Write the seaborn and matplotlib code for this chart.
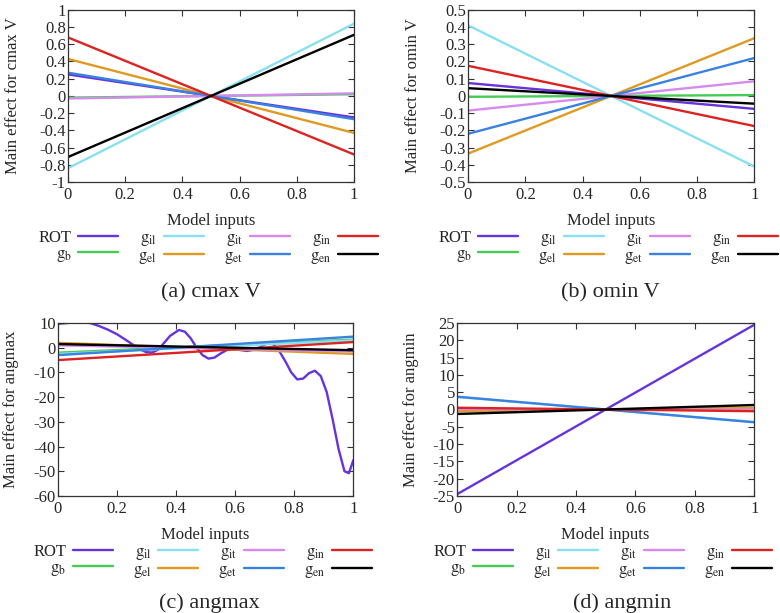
import numpy as np
import pandas as pd
import matplotlib
matplotlib.use("Agg")
import matplotlib.pyplot as plt
from matplotlib.ticker import FuncFormatter, MultipleLocator
import seaborn as sns

sns.set_style("ticks")
plt.rcParams["font.family"] = ["Liberation Serif", "DejaVu Serif"]
plt.rcParams["mathtext.fontset"] = "stix"
plt.rcParams["axes.unicode_minus"] = False

# series names, legend labels and colours (plot order = legend order)
names = ["ROT", "gb", "gil", "gel", "git", "get", "gin", "gen"]
labels = ["ROT", r"$\mathrm{g_{b}}$", r"$\mathrm{g_{il}}$", r"$\mathrm{g_{el}}$",
          r"$\mathrm{g_{it}}$", r"$\mathrm{g_{et}}$", r"$\mathrm{g_{in}}$", r"$\mathrm{g_{en}}$"]
colors = ["#6633dd", "#44cc55", "#88e0f0", "#e09a22",
          "#d68af0", "#3a82e0", "#dd2222", "#000000"]

# linear main effects: value at x=0 and x=1
x_ends = [0.0, 1.0]
cmax_start = [0.25, -0.02, -0.84, 0.43, -0.03, 0.27, 0.68, -0.71]
cmax_end = [-0.25, 0.02, 0.84, -0.43, 0.03, -0.27, -0.68, 0.71]
omin_start = [0.075, -0.005, 0.41, -0.335, -0.085, -0.22, 0.175, 0.045]
omin_end = [-0.075, 0.005, -0.41, 0.335, 0.085, 0.22, -0.175, -0.045]
angmax_start = [None, -2.0, -2.5, 2.0, 1.0, -3.0, -5.0, 1.5]
angmax_end = [None, 3.3, 3.0, -2.5, -1.5, 4.5, 2.3, -1.0]
angmin_start = [-24.5, -0.3, 3.6, -0.5, 0.1, 3.7, 0.5, -1.3]
angmin_end = [24.5, 0.3, -3.6, 0.5, -0.1, -3.7, -0.5, 1.3]

# ROT main effect for angmax (nonlinear)
rot_angmax_x = [0.0, 0.04, 0.08, 0.11, 0.14, 0.17, 0.20, 0.23, 0.26, 0.28, 0.30,
                0.32, 0.34, 0.36, 0.38, 0.41, 0.43, 0.45, 0.47, 0.49, 0.51, 0.53,
                0.55, 0.58, 0.61, 0.64, 0.67, 0.69, 0.71, 0.73, 0.75, 0.77, 0.79,
                0.81, 0.83, 0.85, 0.87, 0.89, 0.91, 0.93, 0.95, 0.97, 0.985, 1.0]
rot_angmax_y = [9.7, 10.1, 10.4, 10.0, 8.8, 7.3, 5.5, 3.2, 0.8, -0.8, -1.8,
                -1.9, -0.8, 2.0, 4.8, 7.2, 6.5, 3.8, 0.0, -3.0, -4.4, -4.0,
                -2.4, -0.4, -0.8, -1.3, -0.7, 0.6, 1.9, 1.4, -1.5, -5.5, -10.0,
                -12.8, -12.5, -10.3, -9.3, -11.5, -18.0, -29.0, -41.0, -50.0, -50.8, -45.5]

panels = [
    dict(start=cmax_start, end=cmax_end, ylim=(-1, 1), step=0.2,
         ylabel="Main effect for cmax V", cap="(a) cmax V", lpad=13,
         pos=[0.087, 0.703, 0.367, 0.281], cx=0.27),
    dict(start=omin_start, end=omin_end, ylim=(-0.5, 0.5), step=0.1,
         ylabel="Main effect for omin V", cap="(b) omin V", lpad=13,
         pos=[0.600, 0.703, 0.367, 0.281], cx=0.782),
    dict(start=angmax_start, end=angmax_end, ylim=(-60, 10), step=10,
         ylabel="Main effect for angmax", cap="(c) angmax", lpad=10,
         pos=[0.074, 0.191, 0.379, 0.282], cx=0.268),
    dict(start=angmin_start, end=angmin_end, ylim=(-25, 25), step=5,
         ylabel="Main effect for angmin", cap="(d) angmin", lpad=10,
         pos=[0.586, 0.191, 0.381, 0.282], cx=0.798),
]

fig = plt.figure(figsize=(7.8, 6.13), dpi=100)
fmt = FuncFormatter(lambda v, p: "%g" % round(v, 6))

for k, p in enumerate(panels):
    ax = fig.add_axes(p["pos"])
    for i, name in enumerate(names):
        if p["start"][i] is None:
            df = pd.DataFrame({"x": rot_angmax_x, "y": rot_angmax_y})
        else:
            df = pd.DataFrame({"x": x_ends, "y": [p["start"][i], p["end"][i]]})
        sns.lineplot(data=df, x="x", y="y", ax=ax, color=colors[i], lw=1.7,
                     label=labels[i], sort=False)
    ax.set_xlim(0, 1)
    ax.set_ylim(*p["ylim"])
    ax.xaxis.set_major_locator(MultipleLocator(0.2))
    ax.yaxis.set_major_locator(MultipleLocator(p["step"]))
    ax.xaxis.set_major_formatter(fmt)
    ax.yaxis.set_major_formatter(fmt)
    ax.tick_params(direction="in", top=True, right=True, length=4, width=0.8,
                   labelsize=12, pad=1.5, color="#333333")
    ax.tick_params(axis="x", pad=3.5)
    for s in ax.spines.values():
        s.set_color("#333333")
        s.set_linewidth(0.9)
    ax.set_xlabel("Model inputs", fontsize=12, labelpad=7)
    ax.set_ylabel(p["ylabel"], fontsize=12, labelpad=p["lpad"])
    ax.legend(loc="center", bbox_to_anchor=(0.49, -0.38), ncol=4, frameon=False,
              markerfirst=False, fontsize=12, handlelength=2.4, handletextpad=0.4,
              columnspacing=1.2, labelspacing=0.0, borderaxespad=0)
    cy = 0.523 if k < 2 else 0.016
    fig.text(p["cx"], cy, p["cap"], ha="center", va="center", fontsize=16)

fig.savefig("out.png", dpi=100)
